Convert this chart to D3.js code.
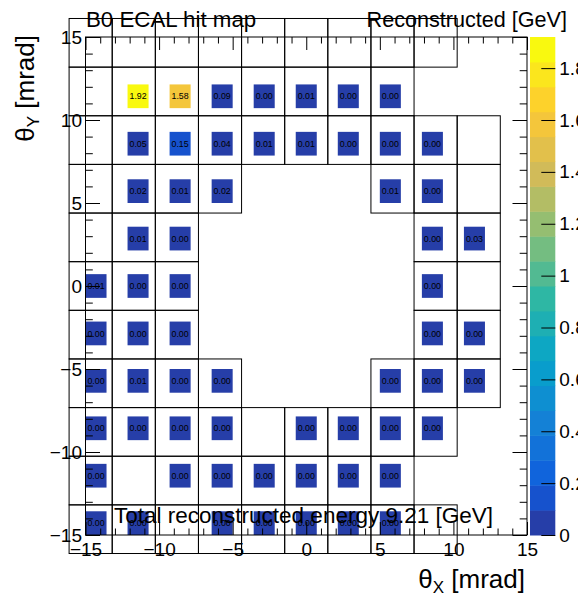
<!DOCTYPE html>
<html>
<head>
<meta charset="utf-8">
<script src="https://cdn.jsdelivr.net/npm/d3@7"></script>
<style>
  body { margin: 0; background: #fff; }
  svg { display: block; }
  text { font-family: "Liberation Sans", Arial, Helvetica, sans-serif; }
</style>
</head>
<body>
<div id="chart"></div>
<script>
// ---- data ----
// hist range (mrad) and binning of the hit map
const axisRange = [-15, 15];
const nBins = 21;
const cellSize = 2.93; // ECAL cell pitch in mrad

// cell outlines: row index (top to bottom) and the column indices present in that row
const cellRows = [5, 4, 3, 2, 1, 0, -1, -2, -3, -4, -5];
const cellCols = [
  [-5, -4, -3, -2, -1, 0, 1, 2, 3],
  [-5, -4, -3, -2, -1, 0, 1, 2],
  [-5, -4, -3, -2, -1, 0, 1, 2, 3, 4],
  [-5, -4, -3, -2, 2, 3, 4],
  [-5, -4, -3, 3, 4],
  [-5, -4, -3, 3, 4],
  [-5, -4, -3, 3, 4],
  [-5, -4, -3, -2, 2, 3, 4],
  [-5, -4, -3, -2, -1, 0, 1, 2, 3],
  [-5, -4, -3, -2, -1, 0, 1, 2],
  [-5, -4, -3, -2, -1, 0, 1, 2, 3]
];

// hits: cell column, cell row, reconstructed energy [GeV]
const hitCol = [
  -4, -3, -2, -1, 0, 1, 2,
  -4, -3, -2, -1, 0, 1, 2, 3,
  -4, -3, -2, 2, 3,
  -4, -3, 3, 4,
  -5, -4, -3, 3,
  -5, -4, -3, 3, 4,
  -5, -4, -3, -2, 2, 3, 4,
  -5, -4, -3, -2, 0, 1, 2, 3,
  -5, -3, -2, -1, 0, 1, 2,
  -5, -4, -2, -1, 0, 1, 2
];
const hitRow = [
  4, 4, 4, 4, 4, 4, 4,
  3, 3, 3, 3, 3, 3, 3, 3,
  2, 2, 2, 2, 2,
  1, 1, 1, 1,
  0, 0, 0, 0,
  -1, -1, -1, -1, -1,
  -2, -2, -2, -2, -2, -2, -2,
  -3, -3, -3, -3, -3, -3, -3, -3,
  -4, -4, -4, -4, -4, -4, -4,
  -5, -5, -5, -5, -5, -5, -5
];
const hitEnergy = [
  1.92, 1.58, 0.09, 0.00, 0.01, 0.00, 0.00,
  0.05, 0.15, 0.04, 0.01, 0.01, 0.00, 0.00, 0.00,
  0.02, 0.01, 0.02, 0.01, 0.00,
  0.01, 0.00, 0.00, 0.03,
  0.01, 0.00, 0.00, 0.00,
  0.00, 0.00, 0.00, 0.00, 0.00,
  0.00, 0.01, 0.00, 0.00, 0.00, 0.00, 0.00,
  0.00, 0.00, 0.00, 0.00, 0.00, 0.00, 0.00, 0.00,
  0.00, 0.00, 0.00, 0.00, 0.00, 0.00, 0.00,
  0.00, 0.00, 0.00, 0.00, 0.00, 0.00, 0.00
];

// axis ticks
const xMajor = [-15, -10, -5, 0, 5, 10, 15];
const xMinor = d3.range(-15, 16, 1).filter(v => v % 5 !== 0);
const zTicks = [0, 0.2, 0.4, 0.6, 0.8, 1, 1.2, 1.4, 1.6, 1.8];

const totalEnergy = "9.21";

// ---- layout ----
const W = 578, H = 598;
const frame = { left: 85.5, right: 527, top: 37, bottom: 535 };
const pal = { left: 530, right: 555.3 };
const nLevels = 20;

const svg = d3.select("#chart").append("svg")
  .attr("width", W).attr("height", H);

const x = d3.scaleLinear().domain(axisRange).range([frame.left, frame.right]);
const y = d3.scaleLinear().domain(axisRange).range([frame.bottom, frame.top]);
const zMax = d3.max(hitEnergy);
const z = d3.scaleLinear().domain([0, zMax]).range([frame.bottom, frame.top]);

// ROOT kBird palette (255 colours, same gradient construction as TColor)
const birdStops = [0, 0.125, 0.25, 0.375, 0.5, 0.625, 0.75, 0.875, 1];
const birdR = [0.2082, 0.0592, 0.0780, 0.0232, 0.1802, 0.5301, 0.8186, 0.9956, 0.9764];
const birdG = [0.1664, 0.3599, 0.5041, 0.6419, 0.7178, 0.7492, 0.7328, 0.7862, 0.9832];
const birdB = [0.5293, 0.8684, 0.8385, 0.7914, 0.6425, 0.4662, 0.3499, 0.1968, 0.0539];
function makePalette(n) {
  const cols = [];
  for (let s = 1; s < birdStops.length; s++) {
    const m = Math.floor(n * birdStops[s]) - Math.floor(n * birdStops[s - 1]);
    for (let c = 0; c < m; c++) {
      const f = c / m;
      cols.push(d3.rgb(
        255 * (birdR[s - 1] + f * (birdR[s] - birdR[s - 1])),
        255 * (birdG[s - 1] + f * (birdG[s] - birdG[s - 1])),
        255 * (birdB[s - 1] + f * (birdB[s] - birdB[s - 1]))).formatHex());
    }
  }
  return cols;
}
const palette = makePalette(255);
const levelColor = lvl => palette[Math.floor((lvl + 0.99) * palette.length / nLevels)];
const levelOf = v => Math.min(nLevels - 1, Math.floor(0.01 + v / zMax * nLevels));

// histogram binning: hit at cell centre falls into a bin of width binW
const binW = (axisRange[1] - axisRange[0]) / nBins;
const binLo = v => axisRange[0] + Math.floor((v - axisRange[0]) / binW) * binW;

const hits = hitEnergy.map((e, i) => {
  const bx = binLo(hitCol[i] * cellSize), by = binLo(hitRow[i] * cellSize);
  return { e, bx, by };
});

const cells = cellRows.flatMap((r, i) => cellCols[i].map(c => ({ r, c })));

// ---- frame clip ----
svg.append("defs").append("clipPath").attr("id", "frameClip")
  .append("rect")
  .attr("x", frame.left).attr("y", frame.top)
  .attr("width", frame.right - frame.left).attr("height", frame.bottom - frame.top);

const plot = svg.append("g").attr("clip-path", "url(#frameClip)");

// coloured bins
plot.selectAll("rect.bin").data(hits).enter().append("rect")
  .attr("class", "bin")
  .attr("x", d => x(d.bx))
  .attr("y", d => y(d.by + binW))
  .attr("width", d => x(d.bx + binW) - x(d.bx))
  .attr("height", d => y(d.by) - y(d.by + binW))
  .attr("fill", d => levelColor(levelOf(d.e)));

// bin contents
plot.selectAll("text.val").data(hits).enter().append("text")
  .attr("class", "val")
  .attr("x", d => x(d.bx + binW / 2))
  .attr("y", d => y(d.by + binW / 2))
  .attr("dy", "0.35em")
  .attr("text-anchor", "middle")
  .attr("font-size", "8.8px")
  .attr("fill", "#000")
  .text(d => d.e.toFixed(2));

// ---- axes ----
function styleAxis(g, size) {
  g.select(".domain").remove();
  g.selectAll("line").attr("stroke", "#000").attr("stroke-width", 1);
  g.selectAll("text").attr("font-family", "'Liberation Sans', Arial, sans-serif")
    .attr("font-size", size).attr("fill", "#000");
  g.attr("font-family", null).attr("font-size", null);
}

const bottomMaj = svg.append("g").attr("transform", `translate(0,${frame.bottom})`)
  .call(d3.axisBottom(x).tickValues(xMajor).tickSizeInner(-13).tickSizeOuter(0).tickPadding(8));
styleAxis(bottomMaj, "19px");
const bottomMin = svg.append("g").attr("transform", `translate(0,${frame.bottom})`)
  .call(d3.axisBottom(x).tickValues(xMinor).tickSize(-6.5).tickFormat(""));
styleAxis(bottomMin, "19px");

const topMaj = svg.append("g").attr("transform", `translate(0,${frame.top})`)
  .call(d3.axisTop(x).tickValues(xMajor).tickSize(-13).tickFormat(""));
styleAxis(topMaj, "19px");
const topMin = svg.append("g").attr("transform", `translate(0,${frame.top})`)
  .call(d3.axisTop(x).tickValues(xMinor).tickSize(-6.5).tickFormat(""));
styleAxis(topMin, "19px");

const leftMaj = svg.append("g").attr("transform", `translate(${frame.left},0)`)
  .call(d3.axisLeft(y).tickValues(xMajor).tickSizeInner(-14.5).tickSizeOuter(0).tickPadding(3.5));
styleAxis(leftMaj, "19px");
const leftMin = svg.append("g").attr("transform", `translate(${frame.left},0)`)
  .call(d3.axisLeft(y).tickValues(xMinor).tickSize(-7.3).tickFormat(""));
styleAxis(leftMin, "19px");

const rightMaj = svg.append("g").attr("transform", `translate(${frame.right},0)`)
  .call(d3.axisRight(y).tickValues(xMajor).tickSize(-14.5).tickFormat(""));
styleAxis(rightMaj, "19px");
const rightMin = svg.append("g").attr("transform", `translate(${frame.right},0)`)
  .call(d3.axisRight(y).tickValues(xMinor).tickSize(-7.3).tickFormat(""));
styleAxis(rightMin, "19px");

// frame border
svg.append("rect")
  .attr("x", frame.left).attr("y", frame.top)
  .attr("width", frame.right - frame.left).attr("height", frame.bottom - frame.top)
  .attr("fill", "none").attr("stroke", "#000").attr("stroke-width", 1);

// ---- colour palette ----
const dz = zMax / nLevels;
svg.selectAll("rect.band").data(d3.range(nLevels)).enter().append("rect")
  .attr("class", "band")
  .attr("x", pal.left)
  .attr("width", pal.right - pal.left)
  .attr("y", d => z((d + 1) * dz))
  .attr("height", d => z(d * dz) - z((d + 1) * dz) + 0.5)
  .attr("fill", d => levelColor(d));

const zAxis = svg.append("g").attr("transform", `translate(${pal.right},0)`)
  .call(d3.axisRight(z).tickValues(zTicks).tickSizeInner(-14).tickSizeOuter(0).tickPadding(4)
    .tickFormat(d3.format("~g")));
styleAxis(zAxis, "19px");

// ---- ECAL cell outlines (drawn unclipped) ----
svg.selectAll("rect.cell").data(cells).enter().append("rect")
  .attr("class", "cell")
  .attr("x", d => x(d.c * cellSize - cellSize / 2))
  .attr("y", d => y(d.r * cellSize + cellSize / 2))
  .attr("width", d => x(d.c * cellSize + cellSize / 2) - x(d.c * cellSize - cellSize / 2))
  .attr("height", d => y(d.r * cellSize - cellSize / 2) - y(d.r * cellSize + cellSize / 2))
  .attr("fill", "none")
  .attr("stroke", "#000")
  .attr("stroke-width", 1);

// ---- titles ----
svg.append("text")
  .attr("x", 86).attr("y", 27)
  .attr("font-size", "22.3px")
  .text("B0 ECAL hit map");

svg.append("text")
  .attr("x", 567).attr("y", 27)
  .attr("text-anchor", "end")
  .attr("font-size", "21.6px")
  .text("Reconstructed [GeV]");

svg.append("text")
  .attr("x", 303.5).attr("y", 523)
  .attr("text-anchor", "middle")
  .attr("font-size", "22.5px")
  .text(`Total reconstructed energy ${totalEnergy} [GeV]`);

// axis titles with subscripts
const xt = svg.append("text")
  .attr("x", 525).attr("y", 588)
  .attr("text-anchor", "end")
  .attr("font-size", "26px");
xt.append("tspan").text("θ");
xt.append("tspan").attr("font-size", "17px").attr("dy", 5).text("X");
xt.append("tspan").attr("dy", -5).text(" [mrad]");

const yt = svg.append("text")
  .attr("transform", "translate(34,35) rotate(-90)")
  .attr("text-anchor", "end")
  .attr("font-size", "26px");
yt.append("tspan").text("θ");
yt.append("tspan").attr("font-size", "17px").attr("dy", 5).text("Y");
yt.append("tspan").attr("dy", -5).text(" [mrad]");
</script>
</body>
</html>
